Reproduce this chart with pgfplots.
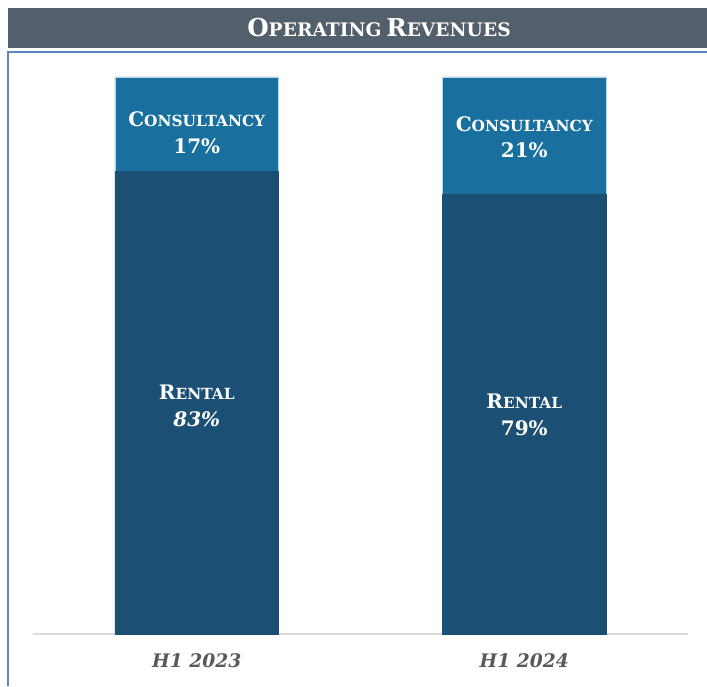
\documentclass[border=0pt]{standalone}
\usepackage{fontspec}
\setmainfont{DejaVu Serif}
\usepackage{pgfplots}
\pgfplotsset{compat=1.18}
\definecolor{titlegray}{HTML}{545F6C}
\definecolor{frameblue}{HTML}{5B87BF}
\definecolor{rentalblue}{HTML}{1B4F73}
\definecolor{consblue}{HTML}{19709E}
\definecolor{ticklab}{HTML}{595959}
\definecolor{basegray}{HTML}{D9D9D9}
% fake small caps: big initial, smaller rest
\newcommand{\capA}{\fontsize{15}{20}\selectfont}
\newcommand{\capB}{\fontsize{11.5}{20}\selectfont}
\newcommand{\ttA}{\fontsize{18.5}{22}\selectfont}
\newcommand{\ttB}{\fontsize{14}{22}\selectfont}

\begin{document}
\begin{tikzpicture}
  % page = 707 x 686 px, 1px = 0.75pt, axis origin at px (33,634)
  \useasboundingbox (-24.75pt,-39pt) rectangle (505.5pt,475.5pt);
  \fill[titlegray] (-18.75pt,439.5pt) rectangle (505.5pt,469.5pt);
  \node[text=white, font=\bfseries] at (259.5pt,454.5pt)
    {{\ttA O}{\ttB PERATING} {\ttA R}{\ttB EVENUES}};
  \draw[frameblue, line width=0.8pt] (-18.75pt,-39pt) -- (-18.75pt,436.5pt) -- (505.5pt,436.5pt);

  \begin{axis}[
      at={(0,0)}, anchor=south west,
      scale only axis,
      width=491.25pt, height=417.75pt,
      ybar stacked,
      bar width=0.5,
      xmin=-0.5, xmax=1.5,
      ymin=0, ymax=100,
      axis x line*=bottom,
      axis y line=none,
      x axis line style={draw=basegray, line width=1.2pt, -},
      xtick={0,1},
      xticklabels={H1 2023, H1 2024},
      major tick length=0pt,
      xticklabel style={text=ticklab, font=\fontsize{14}{16}\selectfont\bfseries\itshape, yshift=-11pt},
      clip=false,
    ]
    \addplot[fill=rentalblue, draw=rentalblue] coordinates {(0,83) (1,79)};
    \addplot[fill=consblue, draw=white!70!consblue, line width=0.5pt] coordinates {(0,17) (1,21)};

    \coordinate (c1) at (axis cs:0,90.0);
    \coordinate (c2) at (axis cs:1,89.2);
    \coordinate (r1) at (axis cs:0,41.0);
    \coordinate (r2) at (axis cs:1,39.3);
  \end{axis}
  \tikzset{lbl/.style={align=center, text=white, font=\bfseries\capA}}
  \node[lbl] at (c1) {C{\capB ONSULTANCY}\\17\%};
  \node[lbl] at (c2) {C{\capB ONSULTANCY}\\21\%};
  \node[lbl] at (r1) {R{\capB ENTAL}\\{\itshape 83\%}};
  \node[lbl] at (r2) {R{\capB ENTAL}\\79\%};
\end{tikzpicture}
\end{document}
